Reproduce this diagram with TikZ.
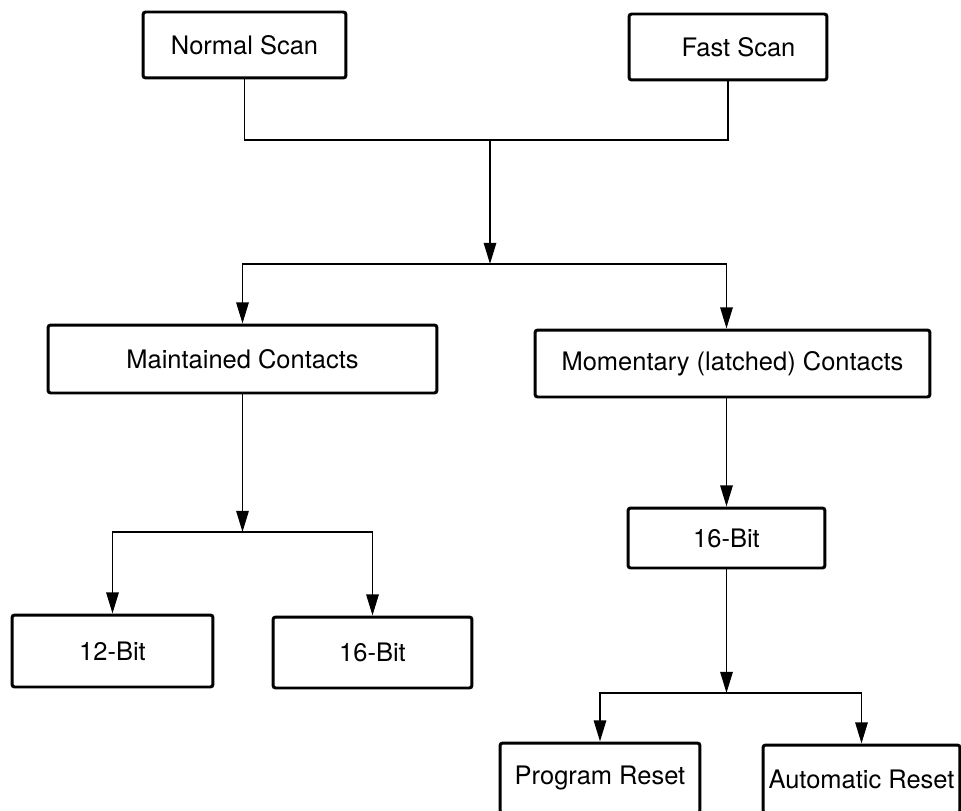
\documentclass[tikz,border=0pt]{standalone}
\usepackage{fontspec}
\setmainfont{TeX Gyre Heros}
\usetikzlibrary{arrows.meta}

\tikzset{
  block/.style={draw, line width=1.7pt, rounded corners=1.5pt, inner sep=0pt,
    font=\fontsize{14.5}{17}\selectfont},
  link/.style={line width=1.1pt},
  arr/.style={link, -{Triangle[length=12pt, width=7pt]}}
}

\begin{document}
\begin{tikzpicture}[x=0.02cm, y=-0.02cm]
\useasboundingbox (0,0) rectangle (961,811);
\clip (0,0) rectangle (961,811);

\node[block, minimum width=4.06cm, minimum height=1.32cm] (normal) at (244.5,45) {Normal Scan};
\node[block, minimum width=3.96cm, minimum height=1.32cm] (fast) at (728,47) {\hspace{12pt}Fast Scan};
\node[block, minimum width=7.78cm, minimum height=1.36cm] (maint) at (242.5,359) {Maintained Contacts};
\node[block, minimum width=7.9cm, minimum height=1.34cm] (moment) at (732.5,363.5) {Momentary (latched) Contacts};
\node[block, minimum width=3.94cm, minimum height=1.2cm] (bitm) at (726.5,538) {16-Bit};
\node[block, minimum width=4.02cm, minimum height=1.44cm] (bit12) at (112.5,651) {12-Bit};
\node[block, minimum width=3.98cm, minimum height=1.42cm] (bit16) at (372.5,652.5) {16-Bit};
\node[block, minimum width=4cm, minimum height=1.4cm] (prog) at (600,778) {Program Reset};
\node[block, minimum width=3.94cm, minimum height=1.36cm] (auto) at (861.5,779) {Automatic Reset};

\coordinate (merge) at (490,140);
\coordinate (split) at (490,264);
\draw[link] (normal.south) |- (merge) -| (fast.south);
\draw[arr] (merge) -- (split);
\draw[arr] (split) -| (maint.north);
\draw[arr] (split) -| (moment.north -| bitm.north);

\coordinate (msplit) at (maint.south |- 0,532);
\draw[arr] (maint.south) -- (msplit);
\draw[arr] (msplit) -| (bit12.north);
\draw[arr] (msplit) -| (bit16.north);

\draw[arr] (moment.south -| bitm.north) -- (bitm.north);
\coordinate (rsplit) at (bitm.south |- 0,693);
\draw[arr] (bitm.south) -- (rsplit);
\draw[arr] (rsplit) -| (prog.north);
\draw[arr] (rsplit) -| (auto.north);
\end{tikzpicture}
\end{document}
